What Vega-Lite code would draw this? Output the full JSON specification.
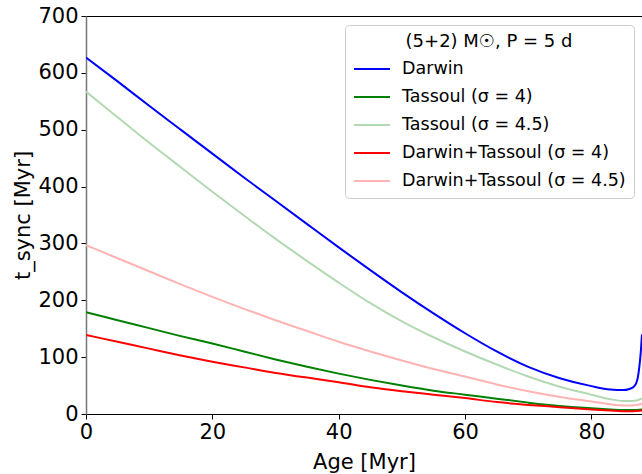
{
  "$schema": "https://vega.github.io/schema/vega-lite/v6.json",
  "width": 556,
  "height": 398,
  "autosize": {"type": "none"},
  "padding": {"left": 86, "top": 16, "right": 0, "bottom": 60},
  "background": "white",
  "config": {
    "font": "DejaVu Sans",
    "view": {"stroke": "black", "strokeWidth": 1}
  },
  "datasets": {
    "curves": [
      {"s": "Darwin", "t": 0, "v": 627}, {"s": "Darwin", "t": 5, "v": 585}, {"s": "Darwin", "t": 10, "v": 542}, {"s": "Darwin", "t": 15, "v": 500}, {"s": "Darwin", "t": 20, "v": 458}, {"s": "Darwin", "t": 25, "v": 416}, {"s": "Darwin", "t": 30, "v": 375}, {"s": "Darwin", "t": 35, "v": 334}, {"s": "Darwin", "t": 40, "v": 293}, {"s": "Darwin", "t": 45, "v": 253}, {"s": "Darwin", "t": 50, "v": 214}, {"s": "Darwin", "t": 55, "v": 177}, {"s": "Darwin", "t": 60, "v": 142}, {"s": "Darwin", "t": 65, "v": 110}, {"s": "Darwin", "t": 70, "v": 83}, {"s": "Darwin", "t": 75, "v": 63}, {"s": "Darwin", "t": 80, "v": 49}, {"s": "Darwin", "t": 83, "v": 43}, {"s": "Darwin", "t": 85, "v": 42}, {"s": "Darwin", "t": 86, "v": 44}, {"s": "Darwin", "t": 86.8, "v": 49}, {"s": "Darwin", "t": 87.3, "v": 62}, {"s": "Darwin", "t": 87.6, "v": 85}, {"s": "Darwin", "t": 87.8, "v": 108}, {"s": "Darwin", "t": 88, "v": 140},
      {"s": "Tassoul (σ = 4)", "t": 0, "v": 179}, {"s": "Tassoul (σ = 4)", "t": 5, "v": 165}, {"s": "Tassoul (σ = 4)", "t": 10, "v": 151}, {"s": "Tassoul (σ = 4)", "t": 15, "v": 137}, {"s": "Tassoul (σ = 4)", "t": 20, "v": 124}, {"s": "Tassoul (σ = 4)", "t": 25, "v": 110}, {"s": "Tassoul (σ = 4)", "t": 30, "v": 96}, {"s": "Tassoul (σ = 4)", "t": 35, "v": 83}, {"s": "Tassoul (σ = 4)", "t": 40, "v": 71}, {"s": "Tassoul (σ = 4)", "t": 45, "v": 60}, {"s": "Tassoul (σ = 4)", "t": 50, "v": 50}, {"s": "Tassoul (σ = 4)", "t": 55, "v": 41}, {"s": "Tassoul (σ = 4)", "t": 60, "v": 34}, {"s": "Tassoul (σ = 4)", "t": 65, "v": 27}, {"s": "Tassoul (σ = 4)", "t": 70, "v": 20}, {"s": "Tassoul (σ = 4)", "t": 75, "v": 14}, {"s": "Tassoul (σ = 4)", "t": 80, "v": 10}, {"s": "Tassoul (σ = 4)", "t": 83, "v": 8}, {"s": "Tassoul (σ = 4)", "t": 85, "v": 7}, {"s": "Tassoul (σ = 4)", "t": 86.5, "v": 7}, {"s": "Tassoul (σ = 4)", "t": 88, "v": 8},
      {"s": "Tassoul (σ = 4.5)", "t": 0, "v": 567}, {"s": "Tassoul (σ = 4.5)", "t": 5, "v": 522}, {"s": "Tassoul (σ = 4.5)", "t": 10, "v": 477}, {"s": "Tassoul (σ = 4.5)", "t": 15, "v": 434}, {"s": "Tassoul (σ = 4.5)", "t": 20, "v": 391}, {"s": "Tassoul (σ = 4.5)", "t": 25, "v": 349}, {"s": "Tassoul (σ = 4.5)", "t": 30, "v": 308}, {"s": "Tassoul (σ = 4.5)", "t": 35, "v": 269}, {"s": "Tassoul (σ = 4.5)", "t": 40, "v": 231}, {"s": "Tassoul (σ = 4.5)", "t": 45, "v": 195}, {"s": "Tassoul (σ = 4.5)", "t": 50, "v": 163}, {"s": "Tassoul (σ = 4.5)", "t": 55, "v": 135}, {"s": "Tassoul (σ = 4.5)", "t": 60, "v": 110}, {"s": "Tassoul (σ = 4.5)", "t": 65, "v": 87}, {"s": "Tassoul (σ = 4.5)", "t": 70, "v": 66}, {"s": "Tassoul (σ = 4.5)", "t": 75, "v": 48}, {"s": "Tassoul (σ = 4.5)", "t": 80, "v": 34}, {"s": "Tassoul (σ = 4.5)", "t": 83, "v": 26}, {"s": "Tassoul (σ = 4.5)", "t": 85, "v": 23}, {"s": "Tassoul (σ = 4.5)", "t": 86.5, "v": 23}, {"s": "Tassoul (σ = 4.5)", "t": 88, "v": 27},
      {"s": "Darwin+Tassoul (σ = 4)", "t": 0, "v": 139}, {"s": "Darwin+Tassoul (σ = 4)", "t": 5, "v": 127}, {"s": "Darwin+Tassoul (σ = 4)", "t": 10, "v": 115}, {"s": "Darwin+Tassoul (σ = 4)", "t": 15, "v": 103}, {"s": "Darwin+Tassoul (σ = 4)", "t": 20, "v": 92}, {"s": "Darwin+Tassoul (σ = 4)", "t": 25, "v": 82}, {"s": "Darwin+Tassoul (σ = 4)", "t": 30, "v": 72}, {"s": "Darwin+Tassoul (σ = 4)", "t": 35, "v": 64}, {"s": "Darwin+Tassoul (σ = 4)", "t": 40, "v": 56}, {"s": "Darwin+Tassoul (σ = 4)", "t": 45, "v": 47}, {"s": "Darwin+Tassoul (σ = 4)", "t": 50, "v": 40}, {"s": "Darwin+Tassoul (σ = 4)", "t": 55, "v": 34}, {"s": "Darwin+Tassoul (σ = 4)", "t": 60, "v": 28}, {"s": "Darwin+Tassoul (σ = 4)", "t": 65, "v": 21}, {"s": "Darwin+Tassoul (σ = 4)", "t": 70, "v": 16}, {"s": "Darwin+Tassoul (σ = 4)", "t": 75, "v": 12}, {"s": "Darwin+Tassoul (σ = 4)", "t": 80, "v": 8}, {"s": "Darwin+Tassoul (σ = 4)", "t": 83, "v": 6}, {"s": "Darwin+Tassoul (σ = 4)", "t": 85, "v": 5}, {"s": "Darwin+Tassoul (σ = 4)", "t": 86.5, "v": 5}, {"s": "Darwin+Tassoul (σ = 4)", "t": 88, "v": 6},
      {"s": "Darwin+Tassoul (σ = 4.5)", "t": 0, "v": 297}, {"s": "Darwin+Tassoul (σ = 4.5)", "t": 5, "v": 274}, {"s": "Darwin+Tassoul (σ = 4.5)", "t": 10, "v": 251}, {"s": "Darwin+Tassoul (σ = 4.5)", "t": 15, "v": 228}, {"s": "Darwin+Tassoul (σ = 4.5)", "t": 20, "v": 206}, {"s": "Darwin+Tassoul (σ = 4.5)", "t": 25, "v": 185}, {"s": "Darwin+Tassoul (σ = 4.5)", "t": 30, "v": 165}, {"s": "Darwin+Tassoul (σ = 4.5)", "t": 35, "v": 146}, {"s": "Darwin+Tassoul (σ = 4.5)", "t": 40, "v": 127}, {"s": "Darwin+Tassoul (σ = 4.5)", "t": 45, "v": 110}, {"s": "Darwin+Tassoul (σ = 4.5)", "t": 50, "v": 94}, {"s": "Darwin+Tassoul (σ = 4.5)", "t": 55, "v": 79}, {"s": "Darwin+Tassoul (σ = 4.5)", "t": 60, "v": 66}, {"s": "Darwin+Tassoul (σ = 4.5)", "t": 65, "v": 52}, {"s": "Darwin+Tassoul (σ = 4.5)", "t": 70, "v": 40}, {"s": "Darwin+Tassoul (σ = 4.5)", "t": 75, "v": 30}, {"s": "Darwin+Tassoul (σ = 4.5)", "t": 80, "v": 22}, {"s": "Darwin+Tassoul (σ = 4.5)", "t": 83, "v": 17}, {"s": "Darwin+Tassoul (σ = 4.5)", "t": 85, "v": 15}, {"s": "Darwin+Tassoul (σ = 4.5)", "t": 86.5, "v": 15}, {"s": "Darwin+Tassoul (σ = 4.5)", "t": 88, "v": 18}
    ]
  },
  "data": {"name": "curves"},
  "mark": {"type": "line", "strokeWidth": 2, "clip": true, "interpolate": "monotone"},
  "encoding": {
    "x": {
      "field": "t", "type": "quantitative",
      "scale": {"domain": [0, 88], "nice": false, "zero": false},
      "axis": {
        "title": "Age [Myr]", "values": [0, 20, 40, 60, 80],
        "grid": false, "domainColor": "black", "tickColor": "black", "tickSize": 5,
        "labelFontSize": 21, "labelColor": "black", "labelPadding": 2,
        "titleFontSize": 21, "titleFontWeight": "normal", "titleColor": "black", "titlePadding": 9,
        "labelFlush": false
      }
    },
    "y": {
      "field": "v", "type": "quantitative",
      "scale": {"domain": [0, 700], "nice": false},
      "axis": {
        "title": "t_sync [Myr]", "values": [0, 100, 200, 300, 400, 500, 600, 700],
        "grid": false, "domainColor": "#777777", "domainWidth": 1.5, "tickColor": "black", "tickSize": 5,
        "labelFontSize": 21, "labelColor": "black", "labelPadding": 3,
        "titleFontSize": 21, "titleFontWeight": "normal", "titleColor": "black", "titlePadding": 4,
        "labelFlush": false
      }
    },
    "color": {
      "field": "s", "type": "nominal",
      "scale": {
        "domain": ["Darwin", "Tassoul (σ = 4)", "Tassoul (σ = 4.5)", "Darwin+Tassoul (σ = 4)", "Darwin+Tassoul (σ = 4.5)"],
        "range": ["#0000ff", "#008000", "#b3d9b3", "#ff0000", "#ffb3b3"]
      },
      "legend": {
        "title": "(5+2) M☉, P = 5 d",
        "orient": "none", "legendX": 259, "legendY": 9,
        "titleFontSize": 18, "titleFontWeight": "normal", "titleColor": "black",
        "titleAnchor": "middle", "titleAlign": "center", "titlePadding": -1,
        "labelFontSize": 17.5, "labelColor": "black", "labelOffset": 11, "labelLimit": 400,
        "symbolType": "stroke", "symbolSize": 1296, "symbolStrokeWidth": 2,
        "rowPadding": -1.6,
        "padding": 8, "strokeColor": "#cccccc", "fillColor": "rgba(255,255,255,0.8)", "cornerRadius": 4
      }
    },
    "order": {"field": "t", "type": "quantitative"}
  }
}
